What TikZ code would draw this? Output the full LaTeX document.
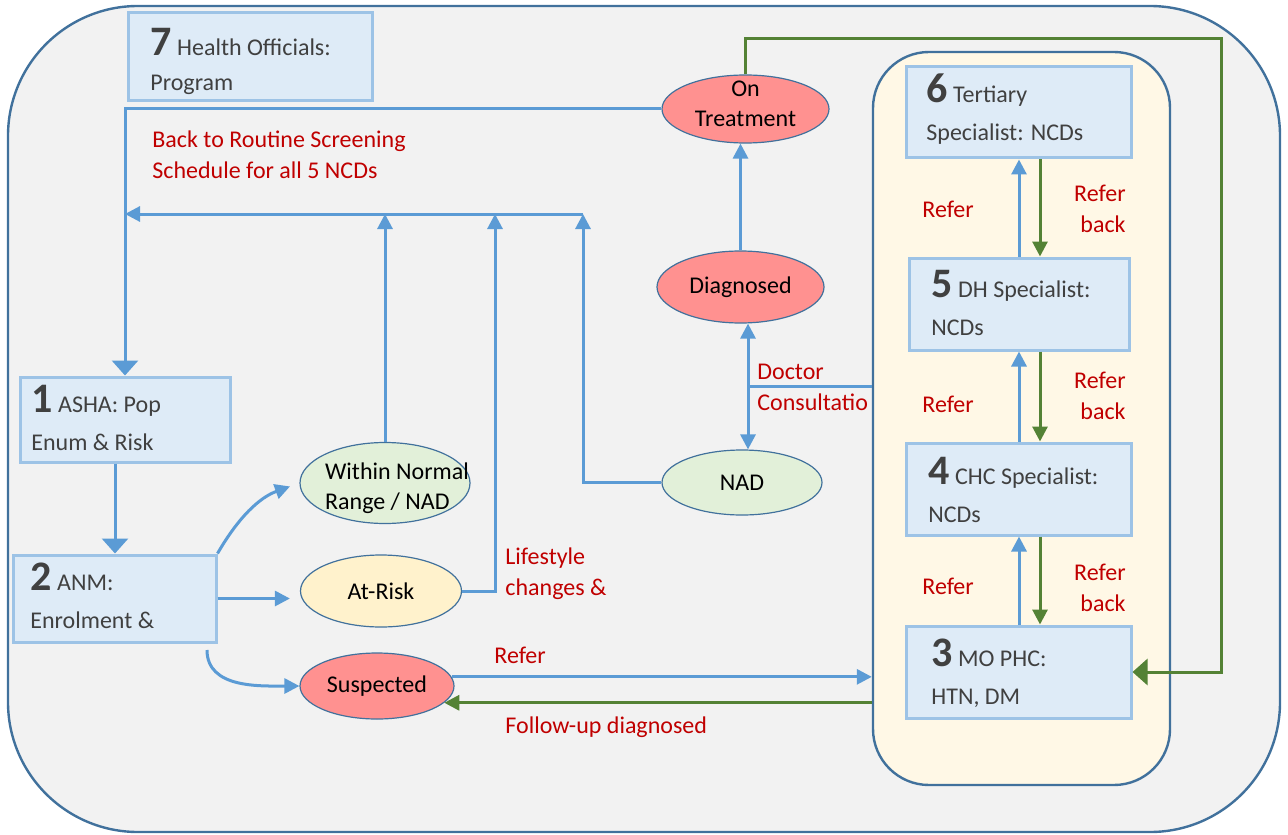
\documentclass[tikz,border=0pt]{standalone}
\usepackage{fontspec}
\setmainfont{Carlito}
\usetikzlibrary{arrows.meta,shapes.geometric,positioning}

\definecolor{bgGray}{HTML}{F2F2F2}
\definecolor{edgeBlue}{HTML}{41719C}
\definecolor{flowBlue}{HTML}{5B9BD5}
\definecolor{backGreen}{HTML}{548235}
\definecolor{boxFill}{HTML}{DEEBF7}
\definecolor{boxEdge}{HTML}{9DC3E6}
\definecolor{tierFill}{HTML}{FFF8E6}
\definecolor{redFill}{HTML}{FF9190}
\definecolor{greenFill}{HTML}{E2F0D9}
\definecolor{yellowFill}{HTML}{FFF2CC}
\definecolor{labelRed}{HTML}{C00000}
\definecolor{boxText}{HTML}{404040}

\newcommand{\stepno}[1]{{\fontsize{21}{21}\selectfont\bfseries #1}}
\newcommand{\intext}[4]{\makebox[0pt]{#1\smash{\raisebox{-#2}{\begin{tabular}{@{}#3@{}}#4\end{tabular}}}}}

\tikzset{
  levelbox/.style={draw=boxEdge,line width=1.5pt,fill=boxFill,inner sep=0pt},
  tierbox/.style={draw=edgeBlue,line width=1.2pt,fill=tierFill,rounded corners=28pt,
    minimum width=148.5pt,minimum height=366.5pt,inner sep=0pt},
  boxtxt/.style={anchor=base west,inner sep=0pt,align=left,text=boxText,
    font=\fontsize{12}{19}\selectfont},
  stage/.style={ellipse,draw=edgeBlue,line width=0.6pt,inner sep=0pt,
    font=\fontsize{12}{15}\selectfont},
  note/.style={anchor=base west,inner sep=0pt,align=left,text=labelRed,
    font=\fontsize{12}{15.5}\selectfont},
  flow/.style={-{Triangle[length=7.5pt,width=7.5pt]},flowBlue,line width=1.5pt},
  backflow/.style={-{Triangle[length=7.5pt,width=7.5pt]},backGreen,line width=1.5pt},
  wide/.style={-{Triangle[length=7.5pt,width=13pt]}},
}

\begin{document}
\begin{tikzpicture}[x=0.5pt,y=-0.5pt]
	\useasboundingbox (0,0) rectangle (1288,834);
	\draw[edgeBlue,line width=1.2pt,fill=bgGray,rounded corners=65pt] (8,6) rectangle (1280,832);
	\node[tierbox] (tiers) at (1021.5,418.5) {};
	% levels (text anchored at the baseline of the last line)
	\node[levelbox,minimum width=122pt,minimum height=44pt] (b7) at (250,57) {};
	\node[levelbox,minimum width=105pt,minimum height=42.5pt] (b1) at (125,419.5) {};
	\node[levelbox,minimum width=101.5pt,minimum height=43.5pt] (b2) at (114.5,598.5) {};
	\node[levelbox,minimum width=112.5pt,minimum height=45.5pt] (b6) at (1018.5,112.5) {};
	\node[levelbox,minimum width=110pt,minimum height=46pt] (b5) at (1019,304) {};
	\node[levelbox,minimum width=112.5pt,minimum height=46pt] (b4) at (1018.5,489) {};
	\node[levelbox,minimum width=112.5pt,minimum height=46pt] (b3) at (1018.5,672) {};
	\node[boxtxt,font=\fontsize{12}{17.5}\selectfont] (t7) at (150,91) {\stepno{7} Health Officials:\\Program};
	\node[boxtxt] (t1) at (31,450) {\stepno{1} ASHA: Pop\\Enum \& Risk};
	\node[boxtxt] (t2) at (30,628) {\stepno{2} ANM:\\Enrolment \&};
	\node[boxtxt] (t6) at (926,141) {\stepno{6} Tertiary\\Specialist: NCDs};
	\node[boxtxt] (t5) at (931,335) {\stepno{5} DH Specialist:\\NCDs};
	\node[boxtxt] (t4) at (928,522) {\stepno{4} CHC Specialist:\\NCDs};
	\node[boxtxt] (t3) at (931,704) {\stepno{3} MO PHC:\\HTN, DM};
	% states
	\node[stage,fill=redFill,minimum width=83.5pt,minimum height=34pt] (onT) at (745.5,109) {\intext{}{1.5pt}{c}{On\\Treatment}};
	\node[stage,fill=redFill,minimum width=83.5pt,minimum height=36pt] (diag) at (740.5,287) {Diagnosed};
	\node[stage,fill=greenFill,minimum width=80pt,minimum height=32.5pt] (nad) at (742,482.5) {NAD};
	\node[stage,fill=greenFill,minimum width=85pt,minimum height=40.5pt] (within) at (385,483) {\intext{\hspace{12pt}}{5.5pt}{l}{Within Normal\\Range / NAD}};
	\node[stage,fill=yellowFill,minimum width=80.5pt,minimum height=36pt] (atrisk) at (381,591) {At-Risk\hspace{15pt}};
	\node[stage,fill=redFill,minimum width=77pt,minimum height=33pt] (susp) at (377,686) {Suspected};
	% labels
	\node[note] (nBack) at (152,178) {Back to Routine Screening\\Schedule for all 5 NCDs};
	\node[note] (nLife) at (505,595) {Lifestyle\\changes \&};
	\node[note] (nRefer) at (494,663) {Refer};
	\node[note] (nFollow) at (505,733) {Follow-up diagnosed};
	\node[note] (nDoc) at (757,410) {Doctor\\Consultatio};
	\foreach \y in {218,412,594} \node[note] (r\y) at (922,\y) {Refer};
	\foreach \y in {232,419,611} \node[note,anchor=base east,align=right] (rb\y) at (1126,\y) {Refer\\back};
	% connectors
	\coordinate (join) at (583,214);
	\coordinate (lifeUp) at (495,214);
	\coordinate (docJoin) at (748,386);
	\coordinate (greenTop) at (1221,39);
	\coordinate (sFrom) at (207,650);
	\draw[flow,wide] (onT.west) -| (b1.north);
	\draw[flow] (join) -- (join -| b1.north);
	\draw[flow] (within.north) -- (within.north |- join);
	\draw[flow] (atrisk.east) -| (lifeUp);
	\draw[flow] (nad.west) -| (join);
	\draw[flow] (diag.north) -- (diag.north |- onT.south);
	\draw[backflow,wide] (onT.north) |- (greenTop) |- (b3.east);
	\draw[flowBlue,line width=1.5pt] (tiers.west |- docJoin) -- (docJoin);
	\draw[flow,{Triangle[length=7.5pt,width=7.5pt]}-{Triangle[length=7.5pt,width=7.5pt]}] (docJoin |- diag.south) -- (docJoin |- nad.north);
	\draw[flow,wide] (b1.south -| 115,0) -- (b2.north -| 115,0);
	\draw[flow,shorten >=5pt] (b2.north east) to[out=60,in=200] (within.west);
	\draw[flow,shorten >=5pt] (b2.east) -- (b2.east -| atrisk.west);
	\draw[flow] (sFrom) to[out=-90,in=180] (susp.west);
	\draw[flow] (susp.7) -- (susp.7 -| tiers.west);
	\draw[backflow] (tiers.west |- susp.-14) -- (susp.-14);
	\foreach \lo/\up in {b3/b4,b4/b5,b5/b6}{
		\draw[flow] (\lo.north -| 1019,0) -- (\up.south -| 1019,0);
		\draw[backflow] (\up.south -| 1040,0) -- (\lo.north -| 1040,0);
	}
\end{tikzpicture}
\end{document}
